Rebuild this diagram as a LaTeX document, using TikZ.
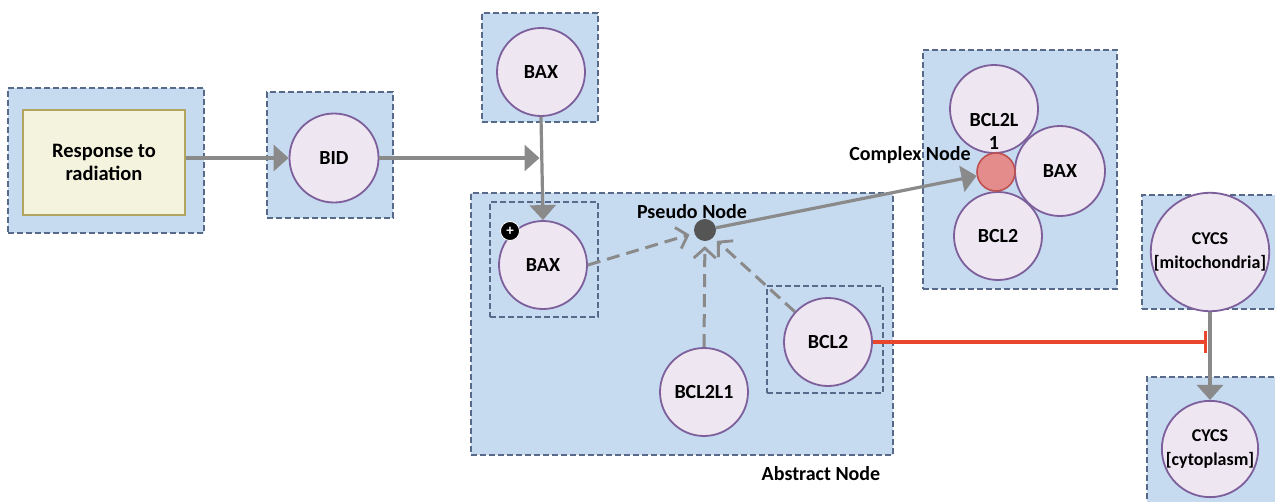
\documentclass[tikz,border=0pt]{standalone}
\usepackage{fontspec}
\setmainfont{Carlito}
\usetikzlibrary{arrows.meta}
\definecolor{boxfill}{RGB}{198,218,240}
\definecolor{boxline}{RGB}{88,106,138}
\definecolor{circfill}{RGB}{238,230,241}
\definecolor{circline}{RGB}{125,95,155}
\definecolor{respfill}{RGB}{243,243,222}
\definecolor{respline}{RGB}{178,165,95}
\definecolor{arrgray}{RGB}{138,138,138}
\definecolor{pseudofill}{RGB}{85,85,85}
\definecolor{cplxfill}{RGB}{228,140,140}
\definecolor{cplxline}{RGB}{190,80,80}
\definecolor{inhred}{RGB}{232,70,45}
\begin{document}
\begin{tikzpicture}[x=1pt,y=-1pt,
  compbox/.style={rectangle, draw=boxline, fill=boxfill, line width=1.8pt, dash pattern=on 6pt off 3pt, inner sep=0pt},
  mol/.style={circle, draw=circline, fill=circfill, line width=1.8pt, minimum size=89pt, inner sep=0pt, align=center, font=\bfseries\fontsize{20}{23}\selectfont},
  molsmall/.style={mol, font=\bfseries\fontsize{18}{24}\selectfont},
  lbl/.style={font=\bfseries\fontsize{20}{23}\selectfont, inner sep=0pt},
  arr/.style={draw=arrgray, line width=3.2pt, -{Triangle[length=15pt,width=26pt]}},
  darr/.style={draw=arrgray, line width=3pt, dash pattern=on 13pt off 7pt, -{Straight Barb[length=10pt,width=22pt,line width=2.8pt]}, shorten >=5pt},
  inh/.style={draw=inhred, line width=3.2pt, -{Bar[width=22pt,line width=2.8pt]}}
]
\fill[white] (0,0) rectangle (1275,501);
\useasboundingbox (0,0) rectangle (1275,501);

% compartment boxes
\node[compbox, minimum width=196pt, minimum height=145pt] (boxresp) at (106,160.5) {};
\node[compbox, minimum width=126pt, minimum height=126pt] (boxbid) at (330,155) {};
\node[compbox, minimum width=116pt, minimum height=109pt] (boxbaxtop) at (540,67.5) {};
\node[compbox, minimum width=422pt, minimum height=262pt] (boxabs) at (682,324) {};
\node[compbox, minimum width=108pt, minimum height=115pt] (boxbaxin) at (544,259.5) {};
\node[compbox, minimum width=116pt, minimum height=107pt] (boxbcl) at (825,339.5) {};
\node[compbox, minimum width=194pt, minimum height=239pt] (boxcplx) at (1020,169.5) {};
\node[compbox, minimum width=143pt, minimum height=114pt] (boxmito) at (1213.5,252) {};
\node[compbox, minimum width=143pt, minimum height=138pt] (boxcyto) at (1218.5,446) {};

% entities
\node[rectangle, draw=respline, fill=respfill, line width=1.8pt, minimum width=162pt, minimum height=105pt, align=center, font=\bfseries\fontsize{20.5}{23}\selectfont] (resp) at (104,162.5) {Response to\\radiation};
\node[mol] (bid) at (334,158) {BID};
\node[mol, minimum size=88pt] (baxtop) at (541,72) {BAX};
\node[mol, minimum size=88pt] (baxin) at (543,265) {BAX};
\node[circle, fill=black, draw=white, line width=0.8pt, minimum size=19pt, inner sep=0pt, text=white, font=\bfseries\fontsize{15}{15}\selectfont] (plus) at (510,231) {+};
\node[circle, fill=pseudofill, minimum size=22pt, inner sep=0pt] (pseudo) at (705,230) {};
\node[mol, minimum size=88pt] (bcll) at (704,392) {BCL2L1};
\node[mol, minimum size=88pt] (bclb) at (828,342) {BCL2};
\node[mol, minimum size=88pt, label={[lbl, yshift=-22pt, align=center]center:{BCL2L\\1}}] (cx1) at (994,109) {};
\node[mol, minimum size=90pt] (cx2) at (1060,171) {BAX};
\node[mol, minimum size=88pt] (cx3) at (998,236) {BCL2};
\node[circle, draw=cplxline, fill=cplxfill, line width=1.6pt, minimum size=38pt, inner sep=0pt] (cxr) at (996,172) {};
\node[molsmall, minimum size=90pt] (cycsm) at (1210,252) {CYCS\\{[}mitochondria{]}};
\node[molsmall, minimum size=90pt] (cycsc) at (1210,449) {CYCS\\{[}cytoplasm{]}};

% labels
\node[lbl] (lpseudo) at (692,212) {Pseudo Node};
\node[lbl] (lcplx) at (910,155) {Complex Node};
\node[lbl] (labs) at (821,474) {Abstract Node};

% connector end points
\coordinate (j) at (539.5,158);
\coordinate (tb) at (1207,342);

% connectors
\draw[arr] (resp.east |- bid.center) -- (bid.west);
\draw[arr] (bid.east) -- (j);
\draw[arr] (baxtop.south) -- (baxin.north);
\draw[darr] (baxin.east) -- (pseudo);
\draw[darr] (bcll.north) -- (pseudo);
\draw[darr] (bclb) -- (pseudo);
\draw[arr] (pseudo) -- (cxr);
\draw[inh] (bclb.east) -- (tb);
\draw[arr] (cycsm.south) -- (cycsc.north);
\end{tikzpicture}
\end{document}
